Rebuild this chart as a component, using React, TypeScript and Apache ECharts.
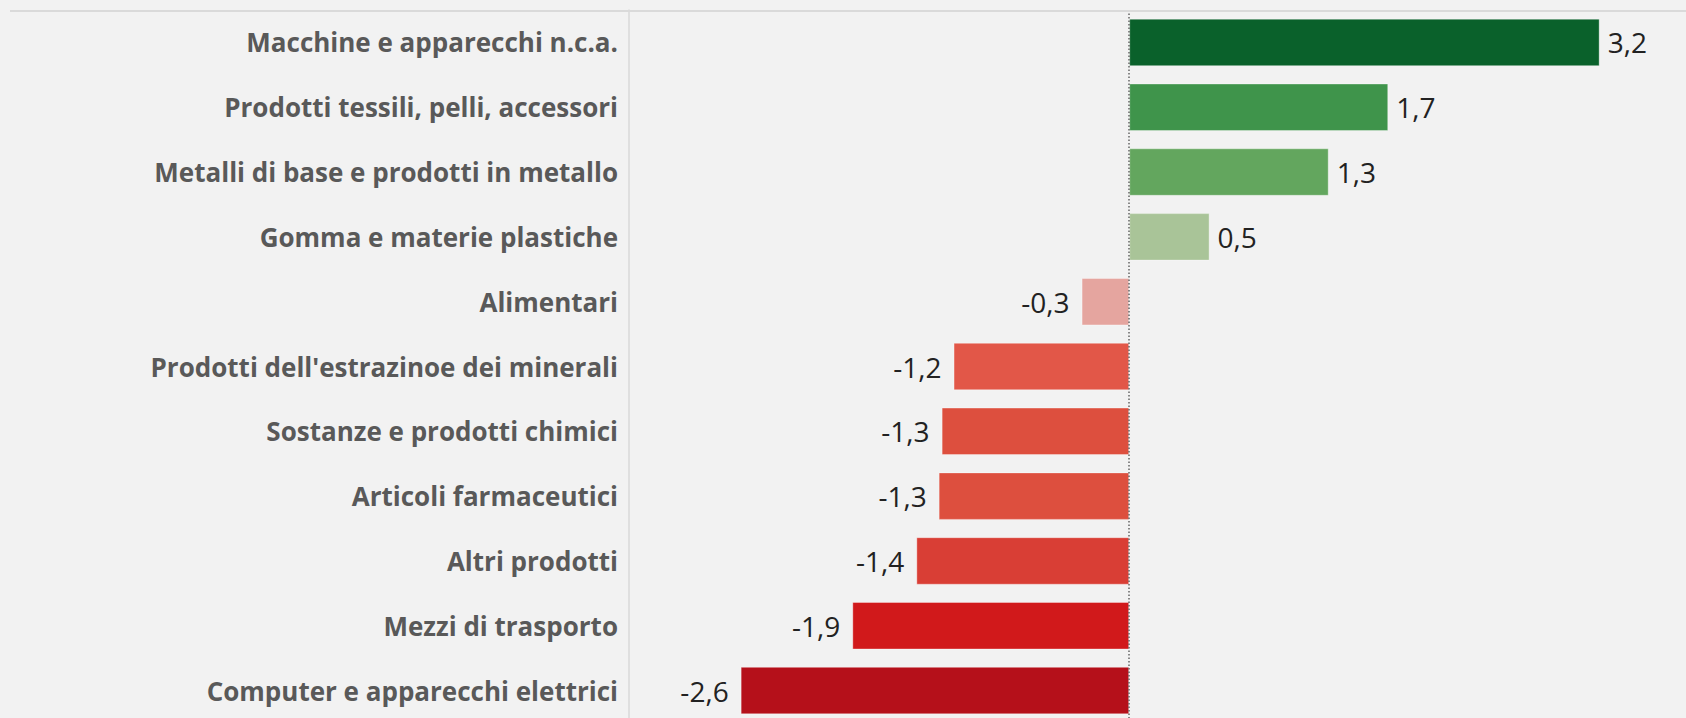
import React, { useEffect, useRef } from "react";
import * as echarts from "echarts";

const categories = [
  "Macchine e apparecchi n.c.a.",
  "Prodotti tessili, pelli, accessori",
  "Metalli di base e prodotti in metallo",
  "Gomma e materie plastiche",
  "Alimentari",
  "Prodotti dell'estrazinoe dei minerali",
  "Sostanze e prodotti chimici",
  "Articoli farmaceutici",
  "Altri prodotti",
  "Mezzi di trasporto",
  "Computer e apparecchi elettrici",
];

const values = [3.16, 1.74, 1.34, 0.54, -0.32, -1.18, -1.26, -1.28, -1.43, -1.86, -2.61];

const barColors = [
  "#0a612b",
  "#3f944b",
  "#63a65e",
  "#a9c498",
  "#e5a59f",
  "#e25748",
  "#dd4f3e",
  "#dd4f3e",
  "#d93e35",
  "#d1191b",
  "#b5101a",
];

const axisMin = -3.36;
const axisMax = 3.74;

export default function App() {
  const ref = useRef<HTMLDivElement>(null);

  useEffect(() => {
    document.body.style.margin = "0";
    document.body.style.background = "#f2f2f2";
    if (!ref.current) return;
    const chart = echarts.init(ref.current, undefined, { renderer: "svg" });
    const fmt = (v: number) => v.toFixed(1).replace(".", ",");
    chart.setOption({
      animation: false,
      backgroundColor: "#f2f2f2",
      grid: {
        left: 629,
        right: 0,
        top: 10,
        height: 713,
        containLabel: false,
        outerBoundsMode: "none",
      },
      xAxis: {
        type: "value",
        min: axisMin,
        max: axisMax,
        show: false,
        splitLine: { show: false },
      },
      yAxis: {
        type: "category",
        data: categories,
        inverse: true,
        axisTick: { show: false },
        axisLine: {
          show: true,
          onZero: false,
          lineStyle: { color: "#d9d9d9", width: 1.5 },
        },
        axisLabel: {
          margin: 11,
          color: "#595959",
          fontFamily: "Open Sans",
          fontWeight: "bold",
          fontSize: 26,
        },
      },
      graphic: [
        {
          type: "rect",
          shape: { x: 10, y: 10, width: 1676, height: 2 },
          style: { fill: "#dadada" },
          z: 10,
        },
      ],
      series: [
        {
          type: "bar",
          barWidth: 47.5,
          data: values.map((v, i) => ({
            value: v,
            itemStyle: { color: barColors[i] },
            label: {
              position: v >= 0 ? "right" : "left",
              distance: v >= 0 ? 8 : 12,
            },
          })),
          itemStyle: {
            borderColor: "rgba(255,255,255,0.35)",
            borderWidth: 1,
          },
          label: {
            show: true,
            color: "#222222",
            fontFamily: "Open Sans",
            fontSize: 28,
            formatter: (p: any) => fmt(p.value),
          },
          markLine: {
            silent: true,
            symbol: "none",
            label: { show: false },
            lineStyle: { color: "#666666", width: 1.5, type: [1.5, 2] },
            data: [{ xAxis: 0 }],
          },
        },
      ],
    });
    return () => chart.dispose();
  }, []);

  return <div ref={ref} style={{ width: 1686, height: 718 }} />;
}
